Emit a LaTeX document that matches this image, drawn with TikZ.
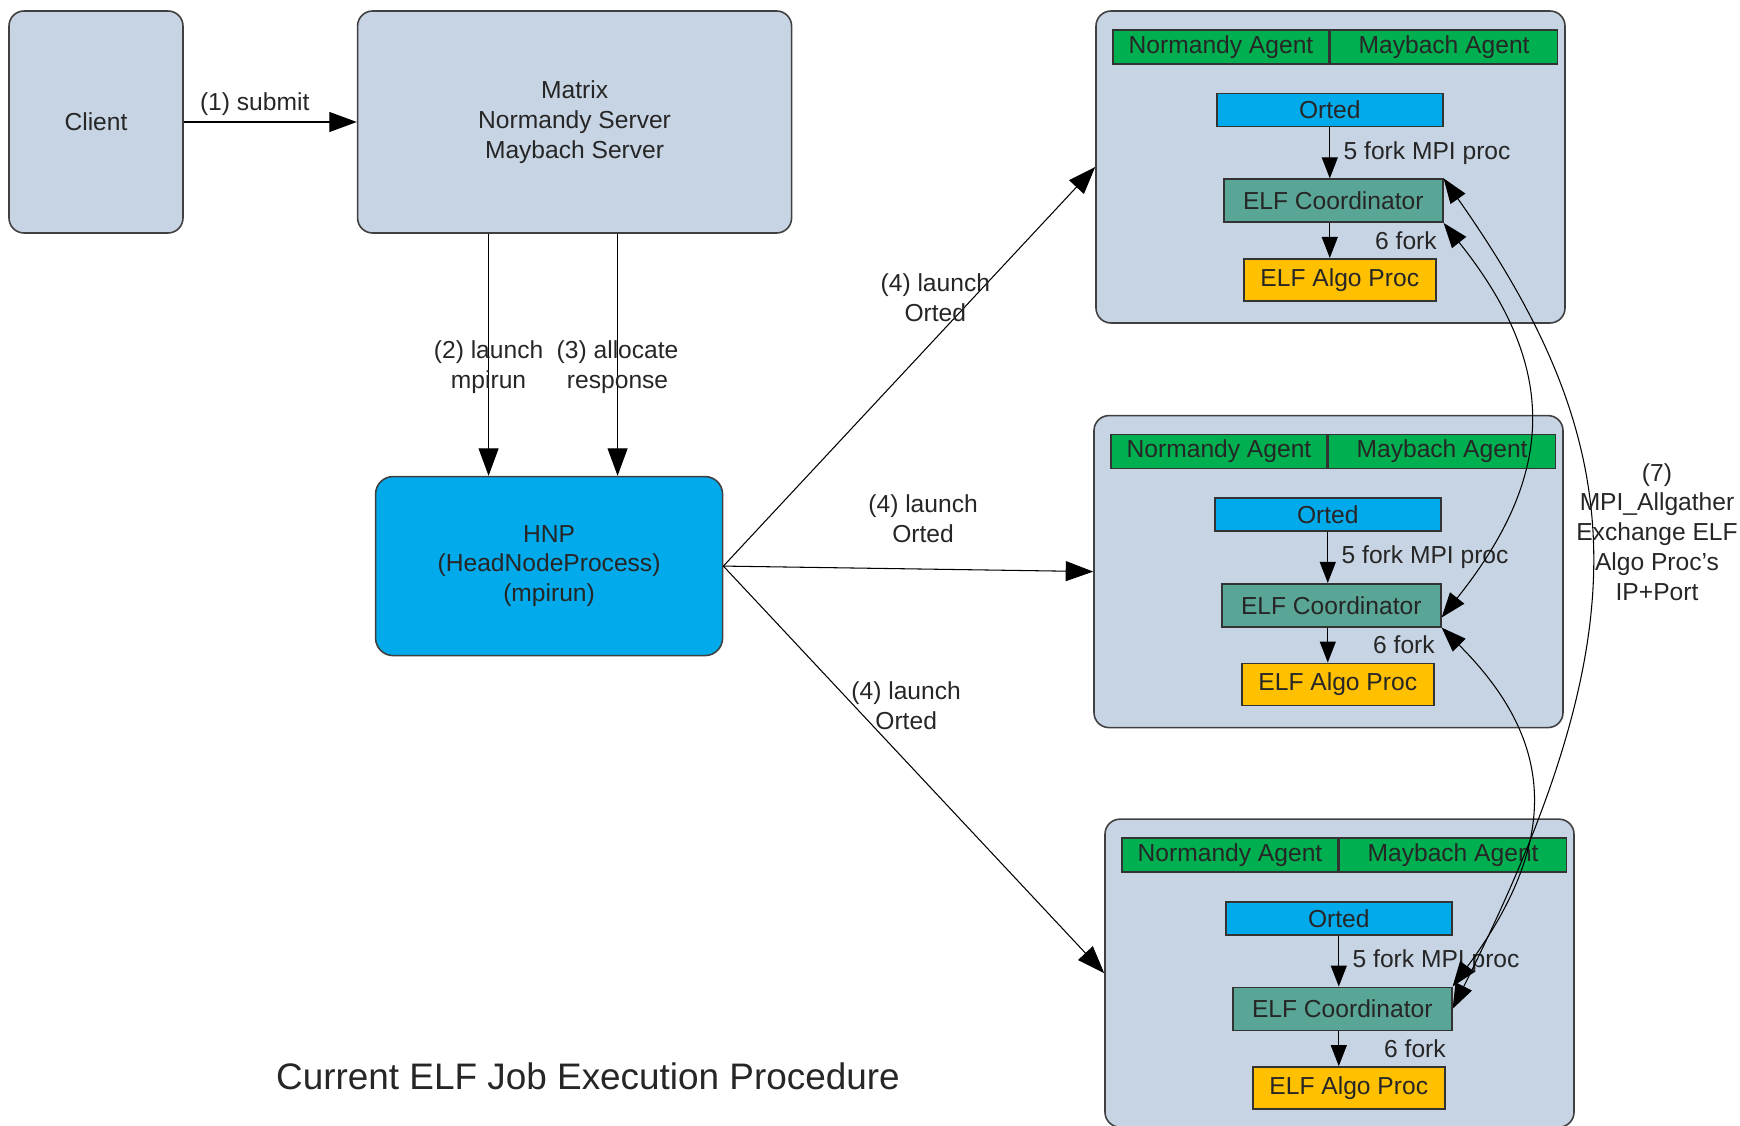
\documentclass[tikz,border=0pt]{standalone}
\usepackage{fontspec}
\setmainfont{Liberation Sans}
\usepackage{xcolor}
\usepackage{tikz}
\usetikzlibrary{arrows.meta, positioning}

\definecolor{boxgray}{RGB}{199,212,228}
\definecolor{hnpblue}{RGB}{0,170,235}
\definecolor{agentgreen}{RGB}{0,176,80}
\definecolor{coordteal}{RGB}{90,166,150}
\definecolor{algoyellow}{RGB}{255,192,0}

\begin{document}
\begin{tikzpicture}[
    box/.style={rectangle, rounded corners=0.3cm, draw=black!75, line width=0.9pt, fill=boxgray, align=center, text=black!85, font=\fontsize{14}{17}\selectfont},
    srv/.style={box, minimum width=9.38cm, minimum height=6.24cm},
    agent/.style={rectangle, draw=black!80, line width=0.9pt, fill=agentgreen, minimum height=0.68cm, inner sep=0pt, text=black!85, font=\fontsize{14}{17}\selectfont},
    orted/.style={agent, fill=hnpblue, minimum width=4.52cm, minimum height=0.66cm},
    coordbox/.style={agent, fill=coordteal, minimum width=4.38cm, minimum height=0.86cm},
    algo/.style={agent, fill=algoyellow, minimum width=3.84cm, minimum height=0.84cm},
    arr/.style={->, >={Triangle[length=0.55cm, width=0.4cm]}, line width=0.6pt},
    arrs/.style={->, >={Triangle[length=0.42cm, width=0.32cm]}, line width=0.6pt},
    arrc/.style={<->, >={Triangle[length=0.5cm, width=0.36cm]}, line width=0.6pt},
    lbl/.style={align=center, text=black!85, font=\fontsize{14}{17}\selectfont}
    ]
    \useasboundingbox (0,0) rectangle (34.8,-22.52);

    \node[box, minimum width=3.48cm, minimum height=4.44cm] (client) at (1.92,-2.44) {Client};
    \node[box, minimum width=8.68cm, minimum height=4.44cm, right=3.46cm of client] (mx) {Matrix\\Normandy Server\\Maybach Server};
    \node[box, fill=hnpblue, rounded corners=0.35cm, minimum width=6.94cm, minimum height=3.58cm, below=4.84cm of mx, xshift=-0.51cm] (hnp) {HNP\\(HeadNodeProcess)\\(mpirun)};

    % compute node 1
    \node[srv] (n1) at (26.61,-3.34) {};
    \node[agent, minimum width=4.32cm, below=0.38cm of n1.north, xshift=-2.19cm] (na1) {Normandy Agent};
    \node[agent, minimum width=4.54cm, right=0pt of na1] (ma1) {Maybach Agent};
    \node[orted, below=0.56cm of na1.south east] (or1) {Orted};
    \node[coordbox, below left=1.02cm and 0cm of or1.south east] (cd1) {ELF Coordinator};
    \node[algo, below left=0.7cm and 0.14cm of cd1.south east] (al1) {ELF Algo Proc};

    % compute node 2
    \node[srv, below=1.82cm of n1, xshift=-0.04cm] (n2) {};
    \node[agent, minimum width=4.32cm, below=0.38cm of n2.north, xshift=-2.19cm] (na2) {Normandy Agent};
    \node[agent, minimum width=4.54cm, right=0pt of na2] (ma2) {Maybach Agent};
    \node[orted, below=0.56cm of na2.south east] (or2) {Orted};
    \node[coordbox, below left=1.02cm and 0cm of or2.south east] (cd2) {ELF Coordinator};
    \node[algo, below left=0.7cm and 0.14cm of cd2.south east] (al2) {ELF Algo Proc};

    % compute node 3
    \node[srv, minimum height=6.16cm, below=1.8cm of n2, xshift=0.22cm] (n3) {};
    \node[agent, minimum width=4.32cm, below=0.38cm of n3.north, xshift=-2.19cm] (na3) {Normandy Agent};
    \node[agent, minimum width=4.54cm, right=0pt of na3] (ma3) {Maybach Agent};
    \node[orted, below=0.56cm of na3.south east] (or3) {Orted};
    \node[coordbox, below left=1.02cm and 0cm of or3.south east] (cd3) {ELF Coordinator};
    \node[algo, below left=0.7cm and 0.14cm of cd3.south east] (al3) {ELF Algo Proc};

    % (1) submit
    \draw[arr] (client) -- (mx) node[lbl, pos=0.41, above] {(1) submit};
    % (2) and (3) down to HNP
    \coordinate (m2) at ([xshift=-1.72cm]mx.south);
    \coordinate (m3) at ([xshift=0.86cm]mx.south);
    \draw[arr] (m2) -- (m2 |- hnp.north) node[lbl, pos=0.55] {(2) launch\\mpirun};
    \draw[arr] (m3) -- (m3 |- hnp.north) node[lbl, pos=0.55] {(3) allocate\\response};
    % (4) launch Orted on each node
    \draw[arr] (hnp.east) -- (n1.west) node[lbl, pos=0.57, yshift=0.82cm] {(4) launch\\Orted};
    \draw[arr] (hnp.east) -- (n2.west) node[lbl, pos=0.54, yshift=1.0cm] {(4) launch\\Orted};
    \draw[arr] (hnp.east) -- (n3.west) node[lbl, pos=0.48, yshift=1.12cm] {(4) launch\\Orted};

    % forks inside the nodes
    \draw[arrs] (or1) -- (or1 |- cd1.north) node[lbl, midway, right=0.15cm] {5 fork MPI proc};
    \draw[arrs] (or1 |- cd1.south) -- (or1 |- al1.north) node[lbl, midway, right=0.78cm] {6 fork};
    \draw[arrs] (or2) -- (or2 |- cd2.north) node[lbl, midway, right=0.15cm] {5 fork MPI proc};
    \draw[arrs] (or2 |- cd2.south) -- (or2 |- al2.north) node[lbl, midway, right=0.78cm] {6 fork};
    \draw[arrs] (or3) -- (or3 |- cd3.north) node[lbl, midway, right=0.15cm] {5 fork MPI proc};
    \draw[arrs] (or3 |- cd3.south) -- (or3 |- al3.north) node[lbl, midway, right=0.78cm] {6 fork};

    % (7) MPI_Allgather between the coordinators
    \draw[arrc] (cd1.south east) .. controls +(2.3,-2.88) and +(2.3,2.88) .. ([yshift=0.2cm]cd2.south east);
    \draw[arrc] (cd2.south east) .. controls +(2.22,-2.22) and +(2.22,3.0) .. (cd3.north east);
    \draw[arrc] (cd1.north east) .. controls +(3.8,-5.4) and +(3.8,7.6) .. (cd3.east);
    \node[lbl] (lbl7) at (33.14,-10.64) {(7)\\MPI\_Allgather\\Exchange ELF\\Algo Proc’s\\IP+Port};

    \node[lbl, font=\fontsize{21}{25}\selectfont] (title) at (11.76,-21.52) {Current ELF Job Execution Procedure};
\end{tikzpicture}
\end{document}
